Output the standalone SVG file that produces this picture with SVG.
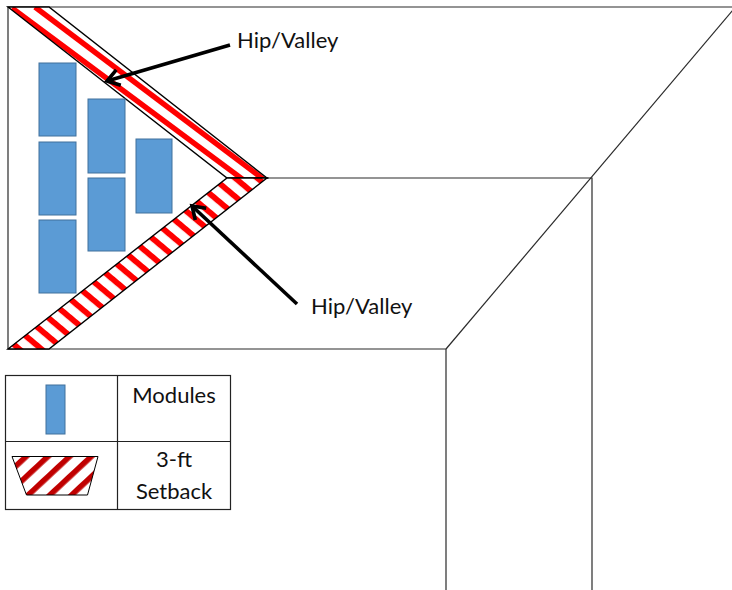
<svg xmlns="http://www.w3.org/2000/svg" width="732" height="590" viewBox="0 0 732 590">
<style>
.roof{fill:none;stroke:#2a2a2a;stroke-width:1.2}
.strip{fill:none;stroke:#000;stroke-width:1.4}
.mod{fill:#5B9BD5;stroke:#41719C;stroke-width:1}
.lbl{font-family:"Lato","Liberation Sans",sans-serif;font-size:22px;fill:#111}
.arrow{fill:none;stroke:#000;stroke-width:3.6;marker-end:url(#head)}
.grid{fill:none;stroke:#222;stroke-width:1.2}
</style>
<defs>
<marker id="head" markerUnits="userSpaceOnUse" markerWidth="24" markerHeight="24" refX="17" refY="12" orient="auto" overflow="visible">
<path d="M5 4 L17 12 L5 20" fill="none" stroke="#000" stroke-width="3.6"/>
</marker>
<pattern id="botStripes" width="40" height="14.2" patternUnits="userSpaceOnUse" patternTransform="rotate(40) translate(0,10.700)">
<rect width="40" height="5.800" fill="#f00"/>
</pattern>
<pattern id="legStripes" width="40" height="14.8" patternUnits="userSpaceOnUse" patternTransform="rotate(-43) translate(0,8.500)">
<rect width="40" height="5.600" fill="#C00000"/>
</pattern>
<clipPath id="topClip"><polygon points="8,7 49,7 267,178 227,178"/></clipPath>
</defs>
<g id="roof">
<path class="roof" d="M8 349V7H732"/>
<path class="roof" d="M8 349H446V590"/>
<path class="roof" d="M267 178H592V590"/>
<path class="roof" d="M733 10L446 349"/>
</g>
<g id="setback-top">
<polygon points="8,7 49,7 267,178 227,178" fill="#fff"/>
<g clip-path="url(#topClip)" stroke="#f00" stroke-width="5.400" fill="none">
<path d="M12 8L253 187"/>
<path d="M35 7L263 179"/>
</g>
<polygon class="strip" points="8,7 49,7 267,178 227,178"/>
</g>
<g id="setback-bottom">
<polygon points="8,349 49,349 267,178 227,178" fill="#fff"/>
<polygon points="8,349 49,349 267,178 227,178" fill="url(#botStripes)"/>
<polygon class="strip" points="8,349 49,349 267,178 227,178"/>
</g>
<g id="modules">
<rect id="module-1" class="mod" x="39" y="63" width="37" height="73"/>
<rect id="module-2" class="mod" x="39" y="142" width="37" height="73"/>
<rect id="module-3" class="mod" x="39" y="220" width="37" height="73"/>
<rect id="module-4" class="mod" x="88" y="99" width="37" height="74"/>
<rect id="module-5" class="mod" x="88" y="178" width="37" height="73"/>
<rect id="module-6" class="mod" x="136" y="139" width="36" height="74"/>
</g>
<g id="connectors">
<path class="arrow" d="M230 45L107 81"/>
<path class="arrow" d="M297 304L192 206"/>
</g>
<g id="label-top"><text class="lbl" x="237" y="48">Hip/Valley</text></g>
<g id="label-bottom"><text class="lbl" x="311" y="314">Hip/Valley</text></g>
<g id="legend">
<rect class="grid" x="5.500" y="375.500" width="225" height="134"/>
<path class="grid" d="M117.500 375.500V509.500M5.500 441.500H230.500"/>
<rect class="mod" x="46" y="385" width="19" height="49"/>
<polygon points="12,456.500 98,456.500 87.500,495 26.500,495" fill="#fff"/>
<polygon points="12,456.500 98,456.500 87.500,495 26.500,495" fill="url(#legStripes)" stroke="#000" stroke-width="1"/>
<text class="lbl" x="174" y="403" text-anchor="middle">Modules</text>
<text class="lbl" x="174" y="467" text-anchor="middle">3-ft</text>
<text class="lbl" x="174" y="499" text-anchor="middle">Setback</text>
</g>
</svg>
